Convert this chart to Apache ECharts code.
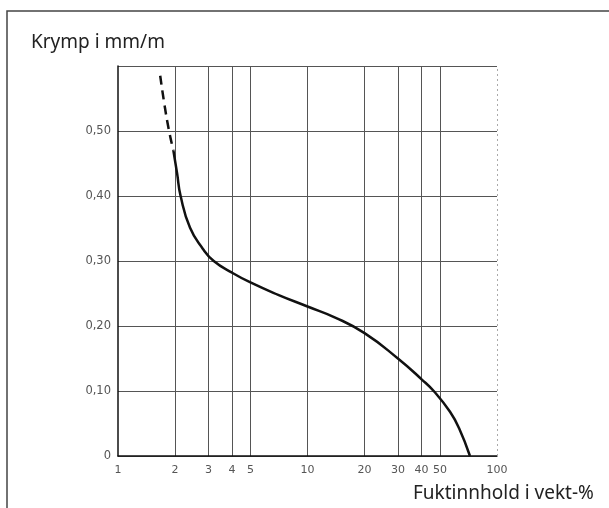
<!DOCTYPE html>
<html>
<head>
<meta charset="utf-8">
<script src="https://cdn.jsdelivr.net/npm/echarts@6/dist/echarts.min.js"></script>
<style>
html,body{margin:0;padding:0;background:#fff;}
#chart{width:609px;height:508px;}
</style>
</head>
<body>
<div id="chart"></div>
<script>
// Data
var xTickLabels = [1, 2, 3, 4, 5, 10, 20, 30, 40, 50, 100];
var xGridValues = [2, 3, 4, 5, 10, 20, 30, 40, 50];
var dashedX = [1.67, 1.76, 1.86, 1.96];
var dashedY = [0.585, 0.540, 0.500, 0.470];
var solidX = [1.96, 2.05, 2.14, 2.4, 2.8, 3.2, 4, 5, 7, 10, 14, 20, 30, 40, 47, 56.5, 63, 72];
var solidY = [0.470, 0.435, 0.400, 0.351, 0.319, 0.300, 0.282, 0.267, 0.248, 0.230, 0.213, 0.189, 0.150, 0.118, 0.098, 0.068, 0.043, 0.000];
var yTitle = 'Krymp i mm/m';
var xTitle = 'Fuktinnhold i vekt-%';

function pairs(xs, ys) { return xs.map(function (x, i) { return [x, ys[i]]; }); }

var chart = echarts.init(document.getElementById('chart'), null, {renderer: 'canvas'});
var gridColor = '#555';
var labelFont = '"DejaVu Sans", sans-serif';
chart.setOption({
  animation: false,
  backgroundColor: '#fff',
  title: [
    {text: yTitle, left: 26, top: 28, textStyle: {fontFamily: '"Noto Sans", sans-serif', fontSize: 19, fontWeight: 'normal', color: '#222'}},
    {text: xTitle, left: 408, top: 479, textStyle: {fontFamily: '"Noto Sans", sans-serif', fontSize: 19, fontWeight: 'normal', color: '#222'}}
  ],
  graphic: [
    {type: 'polyline', silent: true, shape: {points: [[7, 508], [7, 11], [609, 11]]}, style: {stroke: '#444', lineWidth: 1.5, fill: null}}
  ],
  grid: {left: 118, right: 112, top: 66, bottom: 52, containLabel: false},
  xAxis: {
    type: 'log', logBase: 10, min: 1, max: 100,
    axisLine: {show: true, onZero: false, lineStyle: {color: '#111', width: 1.5}},
    axisTick: {show: false, customValues: xGridValues},
    axisLabel: {customValues: xTickLabels, margin: 9, color: '#555', fontSize: 11, fontFamily: labelFont,
      formatter: function (v) { return String(Math.round(v)); }},
    splitLine: {show: true, lineStyle: {color: gridColor, width: 1}},
    minorTick: {show: false}, minorSplitLine: {show: false}
  },
  yAxis: {
    type: 'value', min: 0, max: 0.6, interval: 0.1,
    axisLine: {show: true, lineStyle: {color: '#111', width: 1.5}},
    axisTick: {show: false},
    axisLabel: {margin: 7, color: '#555', fontSize: 11.5, fontFamily: labelFont,
      formatter: function (v) {
        if (v === 0) return '0';
        if (v > 0.55) return '';
        return v.toFixed(2).replace('.', ',');
      }},
    splitLine: {show: true, lineStyle: {color: gridColor, width: 1}}
  },
  series: [
    {
      type: 'line', data: pairs(dashedX, dashedY), smooth: 0.5, symbol: 'none',
      lineStyle: {color: '#111', width: 2.5, type: [9, 6]}, silent: true, z: 5
    },
    {
      type: 'line', data: pairs(solidX, solidY), smooth: 0.5, symbol: 'none',
      lineStyle: {color: '#111', width: 2.5}, silent: true, z: 5,
      markLine: {silent: true, symbol: 'none', label: {show: false},
        lineStyle: {color: '#aaa', width: 1, type: [2, 3]},
        data: [{xAxis: 100}]}
    }
  ]
});
</script>
</body>
</html>
